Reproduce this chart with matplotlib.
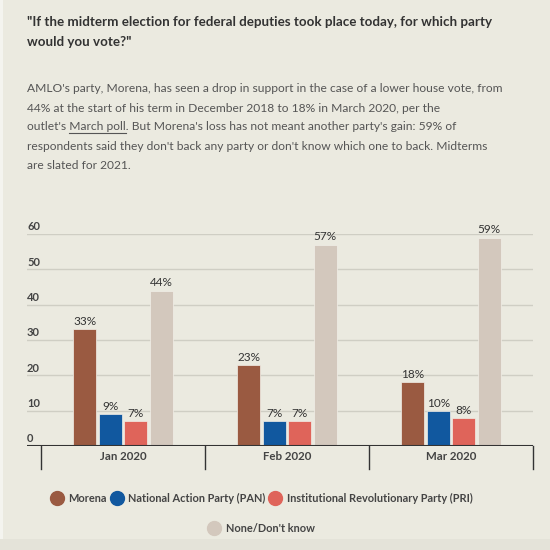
import matplotlib
matplotlib.use("Agg")
import matplotlib.pyplot as plt
import numpy as np
from matplotlib.lines import Line2D
from matplotlib.patches import Rectangle
from matplotlib.transforms import blended_transform_factory

# data
months = ["Jan 2020", "Feb 2020", "Mar 2020"]
parties = ["Morena", "National Action Party (PAN)",
           "Institutional Revolutionary Party (PRI)", "None/Don't know"]
morena = [33, 23, 18]
pan = [9, 7, 10]
pri = [7, 7, 8]
none_dk = [44, 57, 59]
series = [morena, pan, pri, none_dk]
colors = ["#9a5a41", "#11589f", "#df645a", "#d3c8bd"]
y_ticks = [0, 10, 20, 30, 40, 50, 60]

title_lines = ['"If the midterm election for federal deputies took place today, for which party',
               'would you vote?"']
body_lines = ["AMLO's party, Morena, has seen a drop in support in the case of a lower house vote, from",
              "44% at the start of his term in December 2018 to 18% in March 2020, per the",
              "outlet's March poll. But Morena's loss has not meant another party's gain: 59% of",
              "respondents said they don't back any party or don't know which one to back. Midterms",
              "are slated for 2021."]

BG = "#ebeae0"
plt.rcParams["font.family"] = ["Lato", "DejaVu Sans"]

W = H = 550
fig = plt.figure(figsize=(5.5, 5.5), dpi=100, facecolor=BG)
fig.canvas.draw()
r = fig.canvas.get_renderer()

def fx(px):
    return px / W

def fy(py):
    return 1 - py / H

def text_w(s, size, weight="normal"):
    tt = fig.text(0, 0, s, fontsize=size, fontweight=weight)
    w = tt.get_window_extent(r).width
    tt.remove()
    return w

# screenshot edges: light strip on the left, slightly darker band at the bottom
fig.add_artist(Rectangle((0, 0), fx(3), 1, transform=fig.transFigure,
                         color="#f4f4ef", lw=0, zorder=0))
fig.add_artist(Rectangle((0, 0), 1, fy(539), transform=fig.transFigure,
                         color="#e4e3d9", lw=0, zorder=0))

# fit the header fonts to the widths seen in the reference
title_fs = 11 * 461 / text_w(title_lines[0], 11, "bold")
body_fs = 10 * 473 / text_w(body_lines[0], 10)

for i, line in enumerate(title_lines):
    fig.text(fx(27), fy(26 + i * 20.5), line, fontsize=title_fs, fontweight="bold",
             color="#333333", va="baseline", ha="left")
body_y = [92, 111.5, 130.5, 150, 169]
for line, by in zip(body_lines, body_y):
    fig.text(fx(27), fy(by), line, fontsize=body_fs, color="#555555",
             va="baseline", ha="left")

# underline "March poll"
w_pre = text_w("outlet's X", body_fs) - text_w("X", body_fs)
w_link = text_w("March poll", body_fs)
x0 = 27 + w_pre
fig.add_artist(Line2D([fx(x0), fx(x0 + w_link)], [fy(132.5), fy(132.5)],
                      color="#555555", lw=0.8, transform=fig.transFigure))

# chart axes
ax_left, ax_right = 27, 533
base_y, top_y = 446, 234
ax = fig.add_axes([fx(ax_left), fy(base_y), (ax_right - ax_left) / W, (base_y - top_y) / H])
ax.set_facecolor("none")
band = 164.0
xl0 = -0.5 - (41 - ax_left) / band
xl1 = xl0 + (ax_right - ax_left) / band
ax.set_xlim(xl0, xl1)
ax.set_ylim(0, 60)

x = np.arange(len(months))
bw = 23.3 / band
step = 25.5 / band
offsets = (np.arange(len(series)) - 1.5) * step
for vals, off, c in zip(series, offsets, colors):
    bars = ax.bar(x + off, vals, width=bw, color=c, edgecolor="#f2efe8",
                  linewidth=0.5, zorder=3)
    for b, v in zip(bars, vals):
        ax.text(b.get_x() + b.get_width() / 2, v + 0.6, f"{v}%", ha="center",
                va="bottom", fontsize=8.5, color="#333333", zorder=4)

for s in ax.spines.values():
    s.set_visible(False)
ax.set_xticks([])
ax.set_yticks([])
ytrans = blended_transform_factory(ax.transAxes, ax.transData)
for yt in y_ticks:
    if yt > 0:
        ax.axhline(yt, color="#cfcec4", lw=1, zorder=1)
    ax.text(0, yt + 1.0, str(yt), transform=ytrans, ha="left", va="baseline",
            fontsize=8, color="#444444", fontweight="bold")
ax.axhline(0, color="#333333", lw=1.5, zorder=5)

trans = blended_transform_factory(ax.transData, ax.transAxes)
sep_depth = 23 / (base_y - top_y)
for xs in np.arange(len(months) + 1) - 0.5:
    ax.plot([xs, xs], [0, -sep_depth], transform=trans, color="#333333",
            lw=1, clip_on=False)
for xi, m in zip(x, months):
    ax.text(xi, -11 / (base_y - top_y), m, transform=trans, ha="center", va="center",
            fontsize=8.3, fontweight="bold", color="#444444")

# legend, two centered rows
def make_handles(idx):
    return [Line2D([], [], marker="o", linestyle="none", markersize=10,
                   markerfacecolor=colors[i], markeredgecolor=colors[i]) for i in idx]

leg_props = dict(frameon=False, handletextpad=0.55, columnspacing=0.4,
                 handlelength=1.0, borderaxespad=0, borderpad=0,
                 prop={"size": 7.9, "weight": "bold"}, labelcolor="#444444")
fig.legend(make_handles([0, 1, 2]), parties[:3], ncol=3, loc="center",
           bbox_to_anchor=(fx(262), fy(498)), **leg_props)
fig.legend(make_handles([3]), parties[3:], ncol=1, loc="center",
           bbox_to_anchor=(fx(262), fy(528)), **leg_props)

fig.savefig("out.png", dpi=100, facecolor=BG)
